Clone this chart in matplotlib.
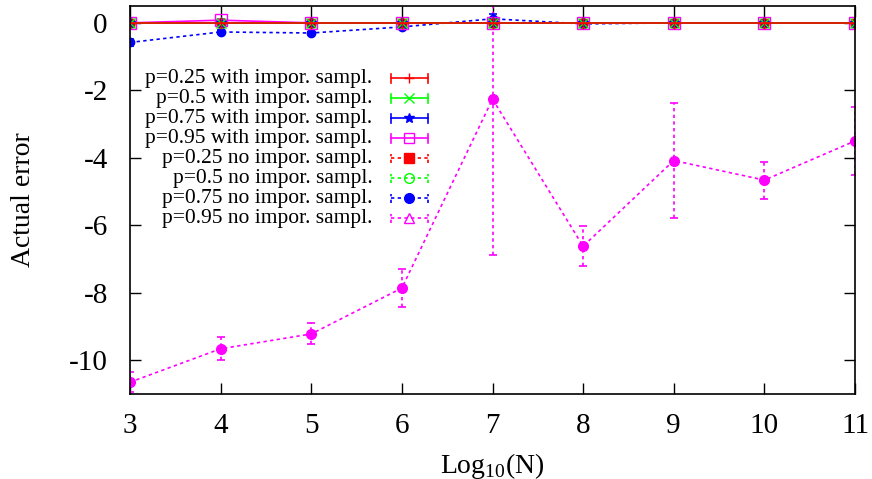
import matplotlib
matplotlib.use('Agg')
from matplotlib import pyplot as plt
from matplotlib.lines import Line2D

plt.rcParams['font.family'] = ['Liberation Serif', 'DejaVu Serif']
plt.rcParams['mathtext.fontset'] = 'custom'
plt.rcParams['mathtext.rm'] = 'Liberation Serif'
plt.rcParams['axes.unicode_minus'] = False

logN = [3, 4, 5, 6, 7, 8, 9, 10, 11]

# with importance sampling
w25 = [0, 0, 0, 0, 0, 0, 0, 0, 0]
w50 = [0, 0, 0, 0, 0, 0, 0, 0, 0]
w75 = [0, 0, 0, 0, 0, 0, 0, 0, 0]
w95 = [0, 0.08, 0, 0, 0, 0, 0, 0, 0]
w_err = [0.02, 0.03, 0.02, 0.02, 0.02, 0.02, 0.02, 0.02, 0.02]

# no importance sampling
n25 = [0, 0, 0, 0, 0, 0, 0, 0, 0]
n50 = [0, 0, 0, 0, 0, 0, 0, 0, 0]
n75 = [-0.58, -0.27, -0.30, -0.12, 0.12, -0.03, 0, 0, 0]
n75_err = [0.1, 0.05, 0.04, 0.04, 0.15, 0.03, 0.02, 0.02, 0.02]
n95 = [-10.65, -9.66, -9.22, -7.86, -2.26, -6.62, -4.08, -4.66, -3.50]
n95_err = [0.3, 0.34, 0.31, 0.57, 4.62, 0.6, 1.71, 0.55, 1.0]

labels = ['p=0.25 with impor. sampl.', 'p=0.5 with impor. sampl.',
          'p=0.75 with impor. sampl.', 'p=0.95 with impor. sampl.',
          'p=0.25 no impor. sampl.', 'p=0.5 no impor. sampl.',
          'p=0.75 no impor. sampl.', 'p=0.95 no impor. sampl.']

fig = plt.figure(figsize=(8.72, 4.79), dpi=100)
ax = fig.add_axes([130 / 872, 85 / 479, 725 / 872, 388 / 479])

dash = (0, (2, 2))

def draw(y, err, color, marker, ms, mfc, dashed):
    ls = dash if dashed else '-'
    eb = ax.errorbar(logN, y, yerr=err, color=color, marker=marker, ms=ms,
                     mfc=mfc, mec=color, lw=1.2, ls=ls, capsize=3,
                     elinewidth=1.2, capthick=1.2, clip_on=True)
    if dashed:
        for lc in eb[2]:
            lc.set_linestyle(dash)
    return eb

draw(n95, n95_err, '#ff00ff', 'o', 7, '#ff00ff', True)
draw(n75, n75_err, '#0000ff', 'o', 6, '#0000ff', True)
draw(n50, w_err, '#00ff00', 'o', 7, 'none', True)
draw(n25, w_err, '#ff0000', 's', 6, '#ff0000', True)
draw(w95, w_err, '#ff00ff', 's', 8, 'none', False)
draw(w75, w_err, '#0000ff', '*', 8, '#0000ff', False)
draw(w50, w_err, '#00ff00', 'x', 7, '#00ff00', False)
draw(w25, w_err, '#ff0000', '+', 8, '#ff0000', False)

ax.set_xlim(3, 11)
ax.set_ylim(-11, 0.5)
ax.set_xticks(logN)
ax.set_yticks([0, -2, -4, -6, -8, -10])
ax.tick_params(direction='in', length=8, width=1, top=True, right=True,
               labelsize=21)
ax.tick_params(axis='x', pad=14)
ax.tick_params(axis='y', pad=16)
for s in ax.spines.values():
    s.set_linewidth(1.2)

ax.set_xlabel(r'Log$_{10}$(N)', fontsize=20, labelpad=8)
ax.set_ylabel('Actual error', fontsize=20, labelpad=24)

# gnuplot style key: right-aligned text, sample on the right
styles = [('#ff0000', '+', 'none', '-'), ('#00ff00', 'x', 'none', '-'),
          ('#0000ff', '*', '#0000ff', '-'), ('#ff00ff', 's', 'none', '-'),
          ('#ff0000', 's', '#ff0000', dash), ('#00ff00', 'o', 'none', dash),
          ('#0000ff', 'o', '#0000ff', dash), ('#ff00ff', '^', 'none', dash)]
x_text = 0.334
x0, x1 = 0.360, 0.411
y_top = 0.814
step = 20 / 388
for i, (lab, (c, m, fc, ls)) in enumerate(zip(labels, styles)):
    yy = y_top - i * step
    ax.text(x_text, yy, lab, transform=ax.transAxes, ha='right', va='center',
            fontsize=15.5)
    ax.add_line(Line2D([x0, x1], [yy, yy], transform=ax.transAxes, color=c,
                       lw=1.2, ls=ls))
    for xc in (x0, x1):
        ax.add_line(Line2D([xc, xc], [yy - 0.012, yy + 0.012],
                           transform=ax.transAxes, color=c, lw=1.2, ls=ls))
    ax.add_line(Line2D([(x0 + x1) / 2], [yy], transform=ax.transAxes,
                       color=c, marker=m, mfc=fc, mec=c, ms=7, lw=0))

fig.savefig('out.png', dpi=100)
